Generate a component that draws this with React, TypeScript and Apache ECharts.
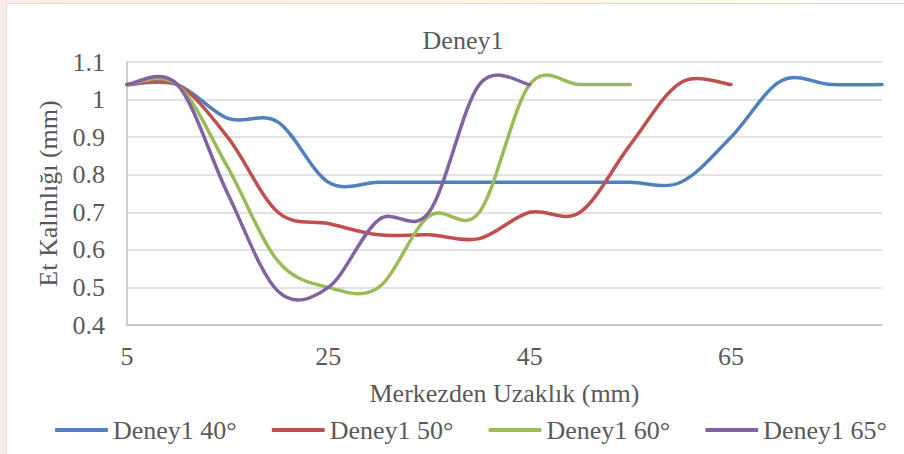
import React, { useEffect, useRef } from 'react';
import * as echarts from 'echarts';

const categories = ['5', '10', '15', '20', '25', '30', '35', '40', '45', '50', '55', '60', '65', '70', '75', '80'];
const deney40 = [1.04, 1.04, 0.95, 0.94, 0.78, 0.78, 0.78, 0.78, 0.78, 0.78, 0.78, 0.78, 0.9, 1.05, 1.04, 1.04];
const deney50 = [1.04, 1.04, 0.9, 0.7, 0.67, 0.64, 0.64, 0.63, 0.7, 0.7, 0.88, 1.045, 1.04];
const deney60 = [1.04, 1.04, 0.82, 0.57, 0.5, 0.5, 0.69, 0.7, 1.04, 1.04, 1.04];
const deney65 = [1.04, 1.04, 0.75, 0.49, 0.5, 0.68, 0.7, 1.04, 1.04];
const seriesNames = ['Deney1 40°', 'Deney1 50°', 'Deney1 60°', 'Deney1 65°'];
const seriesColors = ['#4f81bd', '#c0504d', '#9bbb59', '#8064a2'];
const yMin = 0.4;
const yMax = 1.1;
const yStep = 0.1;

const FONT = 'Liberation Serif';
const TEXT = '#595959';

// Excel-style smoothed line (Catmull-Rom as cubic Bezier) through pixel points from the axes
function smoothPath(pts: number[][]): string {
  const n = pts.length;
  if (n === 0) return '';
  let d = `M${pts[0][0]},${pts[0][1]}`;
  for (let i = 0; i < n - 1; i++) {
    const p0 = pts[Math.max(i - 1, 0)];
    const p1 = pts[i];
    const p2 = pts[i + 1];
    const p3 = pts[Math.min(i + 2, n - 1)];
    const c1x = p1[0] + (p2[0] - p0[0]) / 6;
    const c1y = p1[1] + (p2[1] - p0[1]) / 6;
    const c2x = p2[0] - (p3[0] - p1[0]) / 6;
    const c2y = p2[1] - (p3[1] - p1[1]) / 6;
    d += ` C${c1x},${c1y} ${c2x},${c2y} ${p2[0]},${p2[1]}`;
  }
  return d;
}

export default function App() {
  const ref = useRef<HTMLDivElement>(null);
  useEffect(() => {
    document.body.style.margin = '0';
    const chart = echarts.init(ref.current as HTMLDivElement, null, { renderer: 'svg' });
    const allData = [deney40, deney50, deney60, deney65];
    chart.setOption({
      animation: false,
      backgroundColor: 'transparent',
      color: seriesColors,
      title: {
        text: 'Deney1',
        left: 458,
        textAlign: 'center',
        top: 22,
        textStyle: { fontFamily: FONT, fontSize: 26, fontWeight: 'normal', color: TEXT },
      },
      grid: { left: 127, right: 22, top: 62, bottom: 129 },
      legend: {
        left: 55,
        top: 417,
        itemWidth: 53,
        itemHeight: 4,
        itemGap: 35,
        padding: 0,
        data: seriesNames.map((name) => ({ name, icon: 'roundRect' })),
        textStyle: { fontFamily: FONT, fontSize: 26, color: TEXT },
      },
      xAxis: {
        type: 'category',
        data: categories,
        boundaryGap: false,
        name: 'Merkezden Uzaklık (mm)',
        nameLocation: 'middle',
        nameGap: 55,
        nameTextStyle: { fontFamily: FONT, fontSize: 26, color: TEXT },
        axisLine: { show: true, lineStyle: { color: '#bfbfbf', width: 1.5 } },
        axisTick: { show: false },
        axisLabel: { interval: 3, margin: 18, fontFamily: FONT, fontSize: 26, color: TEXT },
        splitLine: { show: false },
      },
      yAxis: {
        type: 'value',
        min: yMin,
        max: yMax,
        interval: yStep,
        name: 'Et Kalınlığı (mm)',
        nameLocation: 'middle',
        nameGap: 62,
        nameTextStyle: { fontFamily: FONT, fontSize: 26, color: TEXT },
        axisLine: { show: true, lineStyle: { color: '#bfbfbf', width: 1.5 } },
        axisTick: { show: false },
        axisLabel: {
          margin: 22,
          fontFamily: FONT,
          fontSize: 26,
          color: TEXT,
          formatter: (v: number) => String(Math.round(v * 10) / 10),
        },
        splitLine: { show: true, lineStyle: { color: '#d9d9d9', width: 1.5 } },
      },
      series: seriesNames.map((name, i) => {
        const values = allData[i];
        return {
          name,
          type: 'custom',
          coordinateSystem: 'cartesian2d',
          itemStyle: { color: seriesColors[i] },
          encode: { x: 0, y: 1 },
          data: values.map((v, k) => [k, v]),
          renderItem: (params: any, api: any) => {
            if (params.dataIndex !== 0) return null;
            const pts = values.map((v, k) => api.coord([k, v]));
            return {
              type: 'path',
              shape: { pathData: smoothPath(pts) },
              style: {
                fill: 'none',
                stroke: seriesColors[i],
                lineWidth: 3.5,
                lineCap: 'round',
                lineJoin: 'round',
              },
            };
          },
        };
      }),
    });
    return () => chart.dispose();
  }, []);
  return (
    <div
      style={{
        position: 'relative',
        width: 904,
        height: 454,
        overflow: 'hidden',
        background: 'linear-gradient(90deg, #fcece6 0%, #fdf1ec 40%, #fef9e6 75%, #ffffff 100%)',
      }}
    >
      <div
        style={{
          position: 'absolute',
          left: 6,
          top: 3,
          width: 904,
          height: 460,
          background: '#ffffff',
          borderLeft: '1px solid #d9d9d9',
          borderTop: '1px solid #d9d9d9',
        }}
      />
      <div ref={ref} style={{ position: 'absolute', left: 0, top: 0, width: 904, height: 454 }} />
    </div>
  );
}
